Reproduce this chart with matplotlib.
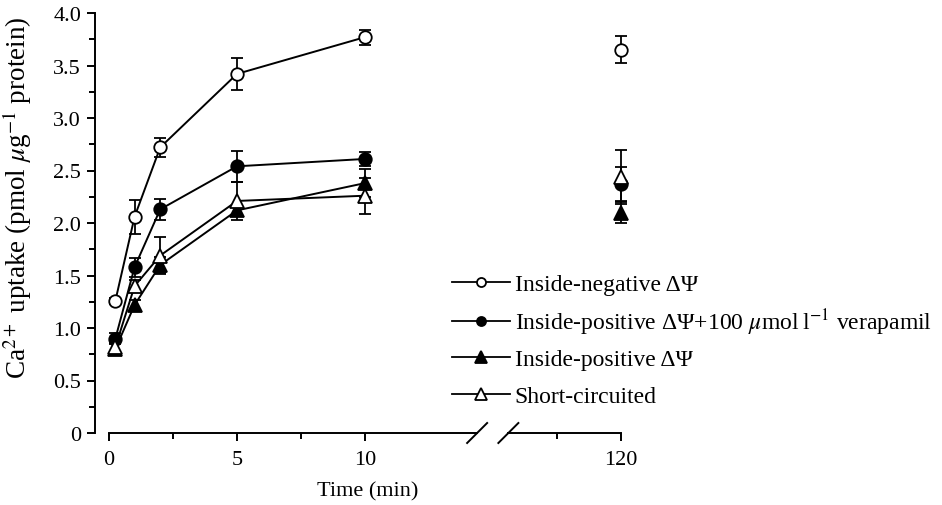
import matplotlib
matplotlib.use("Agg")
import matplotlib.pyplot as plt
import numpy as np

plt.rcParams['font.family'] = ['Liberation Serif', 'DejaVu Serif']
plt.rcParams['mathtext.fontset'] = 'stix'

times = [0.25, 1, 2, 5, 10, 120]
labels = ["Inside-negative ΔΨ",
          "Inside-positive ΔΨ+100 $\\mu$mol\u2009l$^{-1}$ verapamil",
          "Inside-positive ΔΨ",
          "Short-circuited"]
neg_vals = [1.26, 2.06, 2.72, 3.42, 3.77, 3.65]
neg_err = [0.03, 0.16, 0.09, 0.15, 0.07, 0.13]
ver_vals = [0.90, 1.58, 2.13, 2.54, 2.61, 2.37]
ver_err = [0.05, 0.09, 0.10, 0.15, 0.07, 0.16]
pos_vals = [0.80, 1.22, 1.60, 2.12, 2.38, 2.10]
pos_err = [0.06, 0.05, 0.08, 0.05, 0.13, 0.10]
sc_vals = [0.82, 1.40, 1.69, 2.21, 2.26, 2.44]
sc_err = [0.06, 0.06, 0.18, 0.18, 0.17, 0.26]
markers = ['o', 'o', '^', '^']
faces = ['white', 'black', 'black', 'white']

xticks = [0, 5, 10, 120]
xminor = [2.5, 7.5, 117.5]
yticks = [0, 0.5, 1.0, 1.5, 2.0, 2.5, 3.0, 3.5, 4.0]
ytick_labels = ['0', '0.5', '1.0', '1.5', '2.0', '2.5', '3.0', '3.5', '4.0']

def tx(t):
    t = np.asarray(t, dtype=float)
    return np.where(t >= 100, t - 100, t)

fig = plt.figure(figsize=(9.42, 5.06), dpi=100)
W, H = 942, 506
px = 25.6  # pixels per minute
x0 = 109
left_px, right_px = 95, 640
ax = fig.add_axes([left_px / W, 72 / H, (right_px - left_px) / W, 420 / H])
ax.set_xlim((left_px - x0) / px, (right_px - x0) / px)
ax.set_ylim(0, 4.0)

series = [neg_vals, ver_vals, pos_vals, sc_vals]
errs = [neg_err, ver_err, pos_err, sc_err]
handles = []
for vals, err, m, fc, lab in zip(series, errs, markers, faces, labels):
    xs = tx(times)
    ax.errorbar(xs, vals, yerr=err, fmt='none', ecolor='black', elinewidth=1.3,
                capsize=4, capthick=1.3, clip_on=False, zorder=2)
    ms = 9 if m == 'o' else 10
    ax.plot(xs[:5], vals[:5], '-', color='black', lw=1.4, zorder=3, clip_on=False)
    ax.plot(xs, vals, linestyle='none', marker=m, markersize=ms, markerfacecolor=fc,
            markeredgecolor='black', markeredgewidth=1.3, zorder=4, clip_on=False)
    lms = 6.5 if m == 'o' else 9
    h, = ax.plot([], [], '-', color='black', lw=1.3, marker=m, markersize=lms,
                 markerfacecolor=fc, markeredgecolor='black', markeredgewidth=1.3, label=lab)
    handles.append(h)

for s in ['top', 'right', 'bottom']:
    ax.spines[s].set_visible(False)
ax.spines['left'].set_linewidth(1.4)
ax.spines['left'].set_bounds(0, 4.0)

# broken x axis
b1, b2 = 14.38, 15.6
ax.plot([0, b1], [0, 0], color='black', lw=1.4, clip_on=False, zorder=5)
ax.plot([b2, 20], [0, 0], color='black', lw=1.4, clip_on=False, zorder=5)
dx, dy = 10 / px, 10 / 105
for b in (b1, b2):
    ax.plot([b - dx, b + dx], [-dy, dy], color='black', lw=1.4, clip_on=False, zorder=5)

ax.set_xticks(tx(xticks))
ax.set_xticklabels([str(t) for t in xticks])
ax.set_xticks(tx(xminor), minor=True)
ax.set_yticks(yticks)
ax.set_yticklabels(ytick_labels)
ax.set_yticks(np.arange(0.25, 4.0, 0.5), minor=True)
ax.tick_params(which='major', direction='out', length=6, width=1.4, labelsize=16, pad=4)
ax.tick_params(axis='x', which='major', pad=6)
ax.tick_params(which='minor', direction='out', length=4, width=1.4)

ax.set_xlabel('Time (min)', fontsize=16, labelpad=9)
ax.set_ylabel('Ca$^{2+}$ uptake (pmol $\\mu$g$^{-1}$ protein)', fontsize=19.5)
ax.yaxis.set_label_coords(-0.112, 0.562)

row_y = [285, 323, 360, 397]
for h, yy in zip(handles, row_y):
    fig.legend(handles=[h], loc='center left', bbox_to_anchor=(452 / W, 1 - yy / H),
               frameon=False, fontsize=17, handlelength=2.45, handletextpad=0.2,
               borderaxespad=0, borderpad=0)

fig.savefig('out.png', dpi=100)
